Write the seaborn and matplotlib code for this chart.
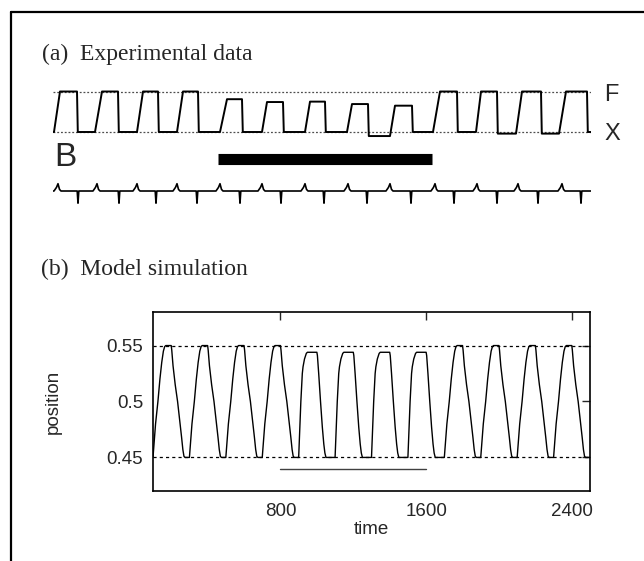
import numpy as np
import pandas as pd
import seaborn as sns
import matplotlib.pyplot as plt

# ---- panel (a): recorded trace (time in arbitrary units, level X=0 .. F=1)
rise_on = [1, 42, 84, 124, 167, 209, 252, 294, 337, 380, 423, 463, 506]
rise_top = [7, 49, 90, 130, 174, 214, 257, 299, 342, 387, 428, 469, 513]
fall_at = [24, 65, 105, 145, 189, 230, 272, 315, 359, 404, 444, 488, 534]
peak_level = [1.0, 1.0, 1.0, 1.0, 0.81, 0.74, 0.75, 0.69, 0.65, 1.0, 1.0, 1.0, 1.0]
floor_level = [0, 0, 0, 0, 0, 0, 0, 0, -0.1, 0, 0, -0.04, -0.04, 0]
spike_at = [5, 44, 84, 124, 167, 209, 252, 295, 337, 382, 424, 465, 509]
dip_at = [25, 66, 103, 144, 187, 228, 271, 314, 358, 401, 444, 485, 528]
stim_a = [165, 379]
trace_end = 538

# ---- panel (b): model simulation
cycle_start = [100, 300, 500, 700, 900, 1100, 1300, 1500, 1700, 1900, 2100, 2300]
stimulated = [0, 0, 0, 0, 1, 1, 1, 1, 0, 0, 0, 0]
# one cycle of the curve, offsets from cycle start
normal_t = [0, 6, 14, 27, 38, 48, 57, 64, 70, 100, 103, 110, 122, 135, 147, 157, 164, 170, 176, 200]
normal_y = [0.45, 0.463, 0.48, 0.50, 0.52, 0.535, 0.545, 0.549, 0.55, 0.55,
            0.546, 0.532, 0.515, 0.50, 0.483, 0.468, 0.457, 0.451, 0.45, 0.45]
stim_t = [0, 5, 12, 20, 24, 32, 42, 48, 100, 103, 110, 120, 130, 138, 144, 150, 200]
stim_y = [0.45, 0.47, 0.50, 0.525, 0.531, 0.538, 0.543, 0.544, 0.544,
          0.541, 0.525, 0.50, 0.477, 0.462, 0.454, 0.45, 0.45]
stim_b = [800, 1600]
bounds = [0.45, 0.55]

# build the panel (a) trace
tx, ty = [0], [floor_level[0]]
for i in range(len(rise_on)):
    tx += [rise_on[i], rise_top[i], fall_at[i], fall_at[i] + 0.8]
    ty += [floor_level[i], peak_level[i], peak_level[i], floor_level[i + 1]]
tx.append(trace_end)
ty.append(floor_level[-1])
trace = pd.DataFrame({"t": tx, "v": ty})

# spike train below the bar: small upward spike, then a downward notch
base = -1.457
sx, sy = [0], [base]
for s, d in zip(spike_at, dip_at):
    sx += [s - 4, s - 1.5, s, s + 1.5, s + 3, d - 0.8, d, d + 0.8]
    sy += [base, base + 0.09, base + 0.18, base + 0.04, base,
           base, base - 0.3, base]
sx.append(trace_end)
sy.append(base)
spikes = pd.DataFrame({"t": sx, "v": sy})

# build the panel (b) curve
mx, my = [], []
for c, st in zip(cycle_start, stimulated):
    tt, yy = (stim_t, stim_y) if st else (normal_t, normal_y)
    mx += [c + o for o in tt]
    my += yy
model = pd.DataFrame({"time": mx, "position": my})

sns.set_style("white")
serif = ["Liberation Serif", "DejaVu Serif"]
sans = ["Liberation Sans", "DejaVu Sans"]
plt.rcParams["font.family"] = sans

W, H = 644, 561
fig = plt.figure(figsize=(W / 100, H / 100), dpi=100)


def box(x0, y0, x1, y1):
    return [x0 / W, 1 - y1 / H, (x1 - x0) / W, (y1 - y0) / H]


# outer frame
fig.add_artist(plt.Line2D([11 / W, 1], [1 - 12 / H, 1 - 12 / H], color="black", lw=1.6))
fig.add_artist(plt.Line2D([11 / W, 11 / W], [0, 1 - 12 / H], color="black", lw=1.6))

# ---- panel (a)
ax_a = fig.add_axes(box(53, 80, 591, 210))
ax_a.set_xlim(0, 538)
ax_a.set_ylim(-1.926, 1.284)
for lvl in (0, 1):
    ax_a.plot([0, 539], [lvl, lvl], color="0.3", lw=0.9, ls=(0, (1.5, 1.5)))
sns.lineplot(data=trace, x="t", y="v", sort=False, estimator=None,
             color="black", lw=1.4, ax=ax_a)
ax_a.plot(stim_a, [-0.667, -0.667], color="black", lw=8, solid_capstyle="butt")
sns.lineplot(data=spikes, x="t", y="v", sort=False, estimator=None,
             color="black", lw=1.2, ax=ax_a)
ax_a.axis("off")

fig.text(42 / W, 1 - 60 / H, "(a)  Experimental data", family=serif, fontsize=17,
         va="baseline", ha="left")
fig.text(604 / W, 1 - 95 / H, "F", fontsize=17, va="center", ha="left")
fig.text(604 / W, 1 - 134 / H, "X", fontsize=17, va="center", ha="left")
fig.text(54 / W, 1 - 158 / H, "B", fontsize=24, va="center", ha="left")

# ---- panel (b)
fig.text(41 / W, 1 - 275 / H, "(b)  Model simulation", family=serif, fontsize=17,
         va="baseline", ha="left")
ax_b = fig.add_axes(box(153, 312, 590, 491))
sns.lineplot(data=model, x="time", y="position", sort=False, estimator=None,
             color="black", lw=1.0, ax=ax_b)
for b in bounds:
    ax_b.axhline(b, color="black", lw=0.9, ls=(0, (2.5, 2.5)))
ax_b.plot(stim_b, [0.4395, 0.4395], color="0.25", lw=1.0)
ax_b.set_xlim(100, 2500)
ax_b.set_ylim(0.42, 0.58)
ax_b.set_xticks([800, 1600, 2400])
ax_b.set_yticks([0.45, 0.5, 0.55])
ax_b.set_yticklabels(["0.45", "0.5", "0.55"])
ax_b.tick_params(direction="in", length=6, width=1, top=True, right=True,
                 labelsize=13.5)
ax_b.tick_params(axis="x", pad=9)
ax_b.tick_params(axis="y", pad=7)
for sp in ax_b.spines.values():
    sp.set_linewidth(1.2)
    sp.set_color("black")
ax_b.set_xlabel("time", fontsize=13.5, labelpad=0)
ax_b.set_ylabel("position", fontsize=13.5)
ax_b.yaxis.set_label_coords((62 - 153) / (590 - 153), 0.5)

fig.savefig("out.png", dpi=100)
